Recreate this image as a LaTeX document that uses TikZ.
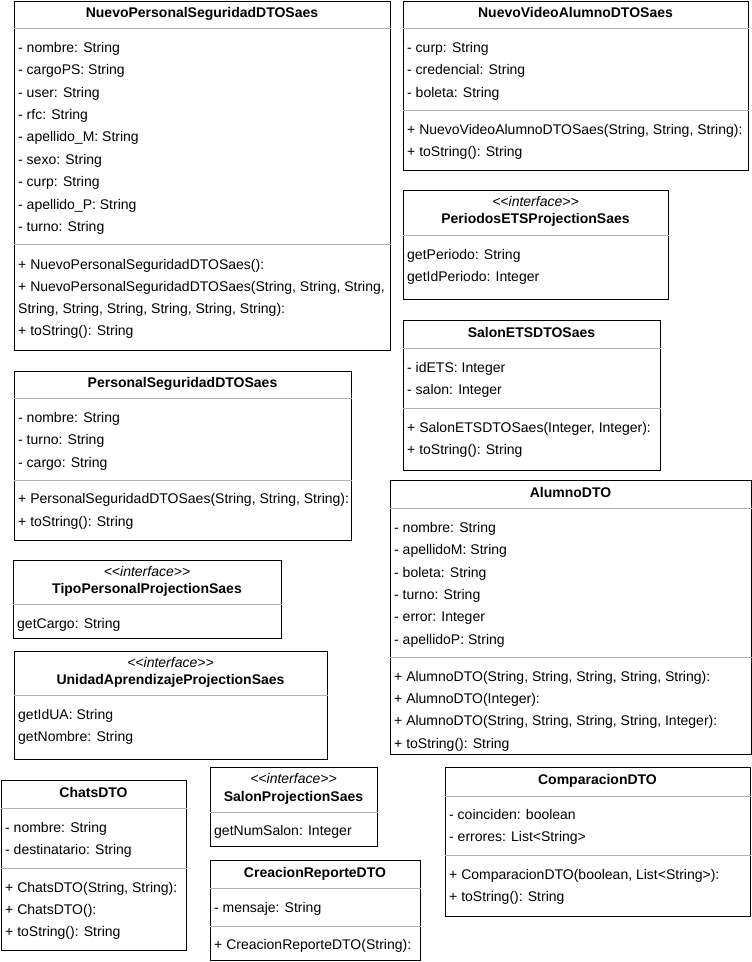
\documentclass[tikz,border=0pt]{standalone}
\usepackage{fontspec}
\setmainfont{Liberation Sans}
\usetikzlibrary{calc}
\tikzset{
  box/.style={draw=black, line width=1pt, fill=white, inner sep=0pt, anchor=north west},
  sepline/.style={draw=black!30, line width=1pt},
  attr/.style={anchor=west, inner sep=0pt, yshift=-2pt, text height=10pt, text depth=3pt, font=\fontsize{14}{16}\selectfont},
  ttl/.style={anchor=center, inner sep=0pt, yshift=-2pt, text height=10pt, text depth=3pt, font=\fontsize{14}{16}\selectfont\bfseries},
  iface/.style={anchor=center, inner sep=0pt, yshift=-2pt, text height=10pt, text depth=3pt, font=\fontsize{14}{16}\selectfont\itshape},
}
\newcommand{\ifacetxt}{{<}{<}interface{>}{>}}
\begin{document}
\begin{tikzpicture}[x=1pt, y=-1pt]
\useasboundingbox (0,0) rectangle (752,962);
\fill[white] (0,0) rectangle (752,962);

% B1 NuevoPersonalSeguridadDTOSaes
\node[box, minimum width=376pt, minimum height=349pt] (b1) at (14,1) {};
\node[ttl] (b1t) at (202,12) {NuevoPersonalSeguridadDTOSaes};
\draw[sepline] (b1.west |- 0,28) -- (b1.east |- 0,28);
\node[attr] (b1a1) at (18,47) {- nombre: String};
\node[attr] (b1a2) at (18,69) {- cargoPS: String};
\node[attr] (b1a3) at (18,92) {- user: String};
\node[attr] (b1a4) at (18,114) {- rfc: String};
\node[attr] (b1a5) at (18,136) {- apellido\_M: String};
\node[attr] (b1a6) at (18,159) {- sexo: String};
\node[attr] (b1a7) at (18,181) {- curp: String};
\node[attr] (b1a8) at (18,204) {- apellido\_P: String};
\node[attr] (b1a9) at (18,226) {- turno: String};
\draw[sepline] (b1.west |- 0,244) -- (b1.east |- 0,244);
\node[attr] (b1m1) at (18,264) {+ NuevoPersonalSeguridadDTOSaes():};
\node[attr] (b1m2) at (18,286) {+ NuevoPersonalSeguridadDTOSaes(String, String, String,};
\node[attr] (b1m3) at (18,308) {String, String, String, String, String, String):};
\node[attr] (b1m4) at (18,330) {+ toString(): String};

% B2 NuevoVideoAlumnoDTOSaes
\node[box, minimum width=345pt, minimum height=169pt] (b2) at (403,1) {};
\node[ttl] (b2t) at (575.5,12) {NuevoVideoAlumnoDTOSaes};
\draw[sepline] (b2.west |- 0,28) -- (b2.east |- 0,28);
\node[attr] (b2a1) at (407,47) {- curp: String};
\node[attr] (b2a2) at (407,69) {- credencial: String};
\node[attr] (b2a3) at (407,92) {- boleta: String};
\draw[sepline] (b2.west |- 0,110) -- (b2.east |- 0,110);
\node[attr] (b2m1) at (407,129) {+ NuevoVideoAlumnoDTOSaes(String, String, String):};
\node[attr] (b2m2) at (407,151) {+ toString(): String};

% B3 PeriodosETSProjectionSaes
\node[box, minimum width=265pt, minimum height=109pt] (b3) at (403,190) {};
\node[iface] (b3i) at (535.5,201) {\ifacetxt};
\node[ttl] (b3t) at (535.5,218) {PeriodosETSProjectionSaes};
\draw[sepline] (b3.west |- 0,235) -- (b3.east |- 0,235);
\node[attr] (b3a1) at (407,254) {getPeriodo: String};
\node[attr] (b3a2) at (407,276) {getIdPeriodo: Integer};

% B4 SalonETSDTOSaes
\node[box, minimum width=257pt, minimum height=150pt] (b4) at (403,320) {};
\node[ttl] (b4t) at (531.5,332) {SalonETSDTOSaes};
\draw[sepline] (b4.west |- 0,348) -- (b4.east |- 0,348);
\node[attr] (b4a1) at (407,367) {- idETS: Integer};
\node[attr] (b4a2) at (407,389) {- salon: Integer};
\draw[sepline] (b4.west |- 0,408) -- (b4.east |- 0,408);
\node[attr] (b4m1) at (407,427) {+ SalonETSDTOSaes(Integer, Integer):};
\node[attr] (b4m2) at (407,449) {+ toString(): String};

% B5 PersonalSeguridadDTOSaes
\node[box, minimum width=337pt, minimum height=169pt] (b5) at (14,371) {};
\node[ttl] (b5t) at (182.5,382) {PersonalSeguridadDTOSaes};
\draw[sepline] (b5.west |- 0,398) -- (b5.east |- 0,398);
\node[attr] (b5a1) at (18,417) {- nombre: String};
\node[attr] (b5a2) at (18,439) {- turno: String};
\node[attr] (b5a3) at (18,462) {- cargo: String};
\draw[sepline] (b5.west |- 0,480) -- (b5.east |- 0,480);
\node[attr] (b5m1) at (18,498) {+ PersonalSeguridadDTOSaes(String, String, String):};
\node[attr] (b5m2) at (18,521) {+ toString(): String};

% B6 AlumnoDTO
\node[box, minimum width=361pt, minimum height=274pt] (b6) at (390,480) {};
\node[ttl] (b6t) at (570.5,492) {AlumnoDTO};
\draw[sepline] (b6.west |- 0,508) -- (b6.east |- 0,508);
\node[attr] (b6a1) at (394,527) {- nombre: String};
\node[attr] (b6a2) at (394,549) {- apellidoM: String};
\node[attr] (b6a3) at (394,572) {- boleta: String};
\node[attr] (b6a4) at (394,594) {- turno: String};
\node[attr] (b6a5) at (394,616) {- error: Integer};
\node[attr] (b6a6) at (394,639) {- apellidoP: String};
\draw[sepline] (b6.west |- 0,657) -- (b6.east |- 0,657);
\node[attr] (b6m1) at (394,676) {+ AlumnoDTO(String, String, String, String, String):};
\node[attr] (b6m2) at (394,698) {+ AlumnoDTO(Integer):};
\node[attr] (b6m3) at (394,720) {+ AlumnoDTO(String, String, String, String, Integer):};
\node[attr] (b6m4) at (394,743) {+ toString(): String};

% B7 TipoPersonalProjectionSaes
\node[box, minimum width=268pt, minimum height=78pt] (b7) at (13,560) {};
\node[iface] (b7i) at (147,571) {\ifacetxt};
\node[ttl] (b7t) at (147,588) {TipoPersonalProjectionSaes};
\draw[sepline] (b7.west |- 0,604) -- (b7.east |- 0,604);
\node[attr] (b7a1) at (17,623) {getCargo: String};

% B8 UnidadAprendizajeProjectionSaes
\node[box, minimum width=313pt, minimum height=108pt] (b8) at (14,651) {};
\node[iface] (b8i) at (170.5,662) {\ifacetxt};
\node[ttl] (b8t) at (170.5,679) {UnidadAprendizajeProjectionSaes};
\draw[sepline] (b8.west |- 0,695) -- (b8.east |- 0,695);
\node[attr] (b8a1) at (18,714) {getIdUA: String};
\node[attr] (b8a2) at (18,736) {getNombre: String};

% B9 ChatsDTO
\node[box, minimum width=185pt, minimum height=170pt] (b9) at (1,780) {};
\node[ttl] (b9t) at (93.5,792) {ChatsDTO};
\draw[sepline] (b9.west |- 0,808) -- (b9.east |- 0,808);
\node[attr] (b9a1) at (5,827) {- nombre: String};
\node[attr] (b9a2) at (5,849) {- destinatario: String};
\draw[sepline] (b9.west |- 0,868) -- (b9.east |- 0,868);
\node[attr] (b9m1) at (5,887) {+ ChatsDTO(String, String):};
\node[attr] (b9m2) at (5,909) {+ ChatsDTO():};
\node[attr] (b9m3) at (5,931) {+ toString(): String};

% B10 SalonProjectionSaes
\node[box, minimum width=167pt, minimum height=79pt] (b10) at (210,767) {};
\node[iface] (b10i) at (293.5,778) {\ifacetxt};
\node[ttl] (b10t) at (293.5,796) {SalonProjectionSaes};
\draw[sepline] (b10.west |- 0,812) -- (b10.east |- 0,812);
\node[attr] (b10a1) at (214,830) {getNumSalon: Integer};

% B11 CreacionReporteDTO
\node[box, minimum width=210pt, minimum height=100pt] (b11) at (210,860) {};
\node[ttl] (b11t) at (315,872) {CreacionReporteDTO};
\draw[sepline] (b11.west |- 0,888) -- (b11.east |- 0,888);
\node[attr] (b11a1) at (214,907) {- mensaje: String};
\draw[sepline] (b11.west |- 0,926) -- (b11.east |- 0,926);
\node[attr] (b11m1) at (214,944) {+ CreacionReporteDTO(String):};

% B12 ComparacionDTO
\node[box, minimum width=305pt, minimum height=149pt] (b12) at (445,767) {};
\node[ttl] (b12t) at (597.5,779) {ComparacionDTO};
\draw[sepline] (b12.west |- 0,796) -- (b12.east |- 0,796);
\node[attr] (b12a1) at (449,814) {- coinciden: boolean};
\node[attr] (b12a2) at (449,836) {- errores: List<String>};
\draw[sepline] (b12.west |- 0,855) -- (b12.east |- 0,855);
\node[attr] (b12m1) at (449,874) {+ ComparacionDTO(boolean, List<String>):};
\node[attr] (b12m2) at (449,896) {+ toString(): String};
\end{tikzpicture}
\end{document}
